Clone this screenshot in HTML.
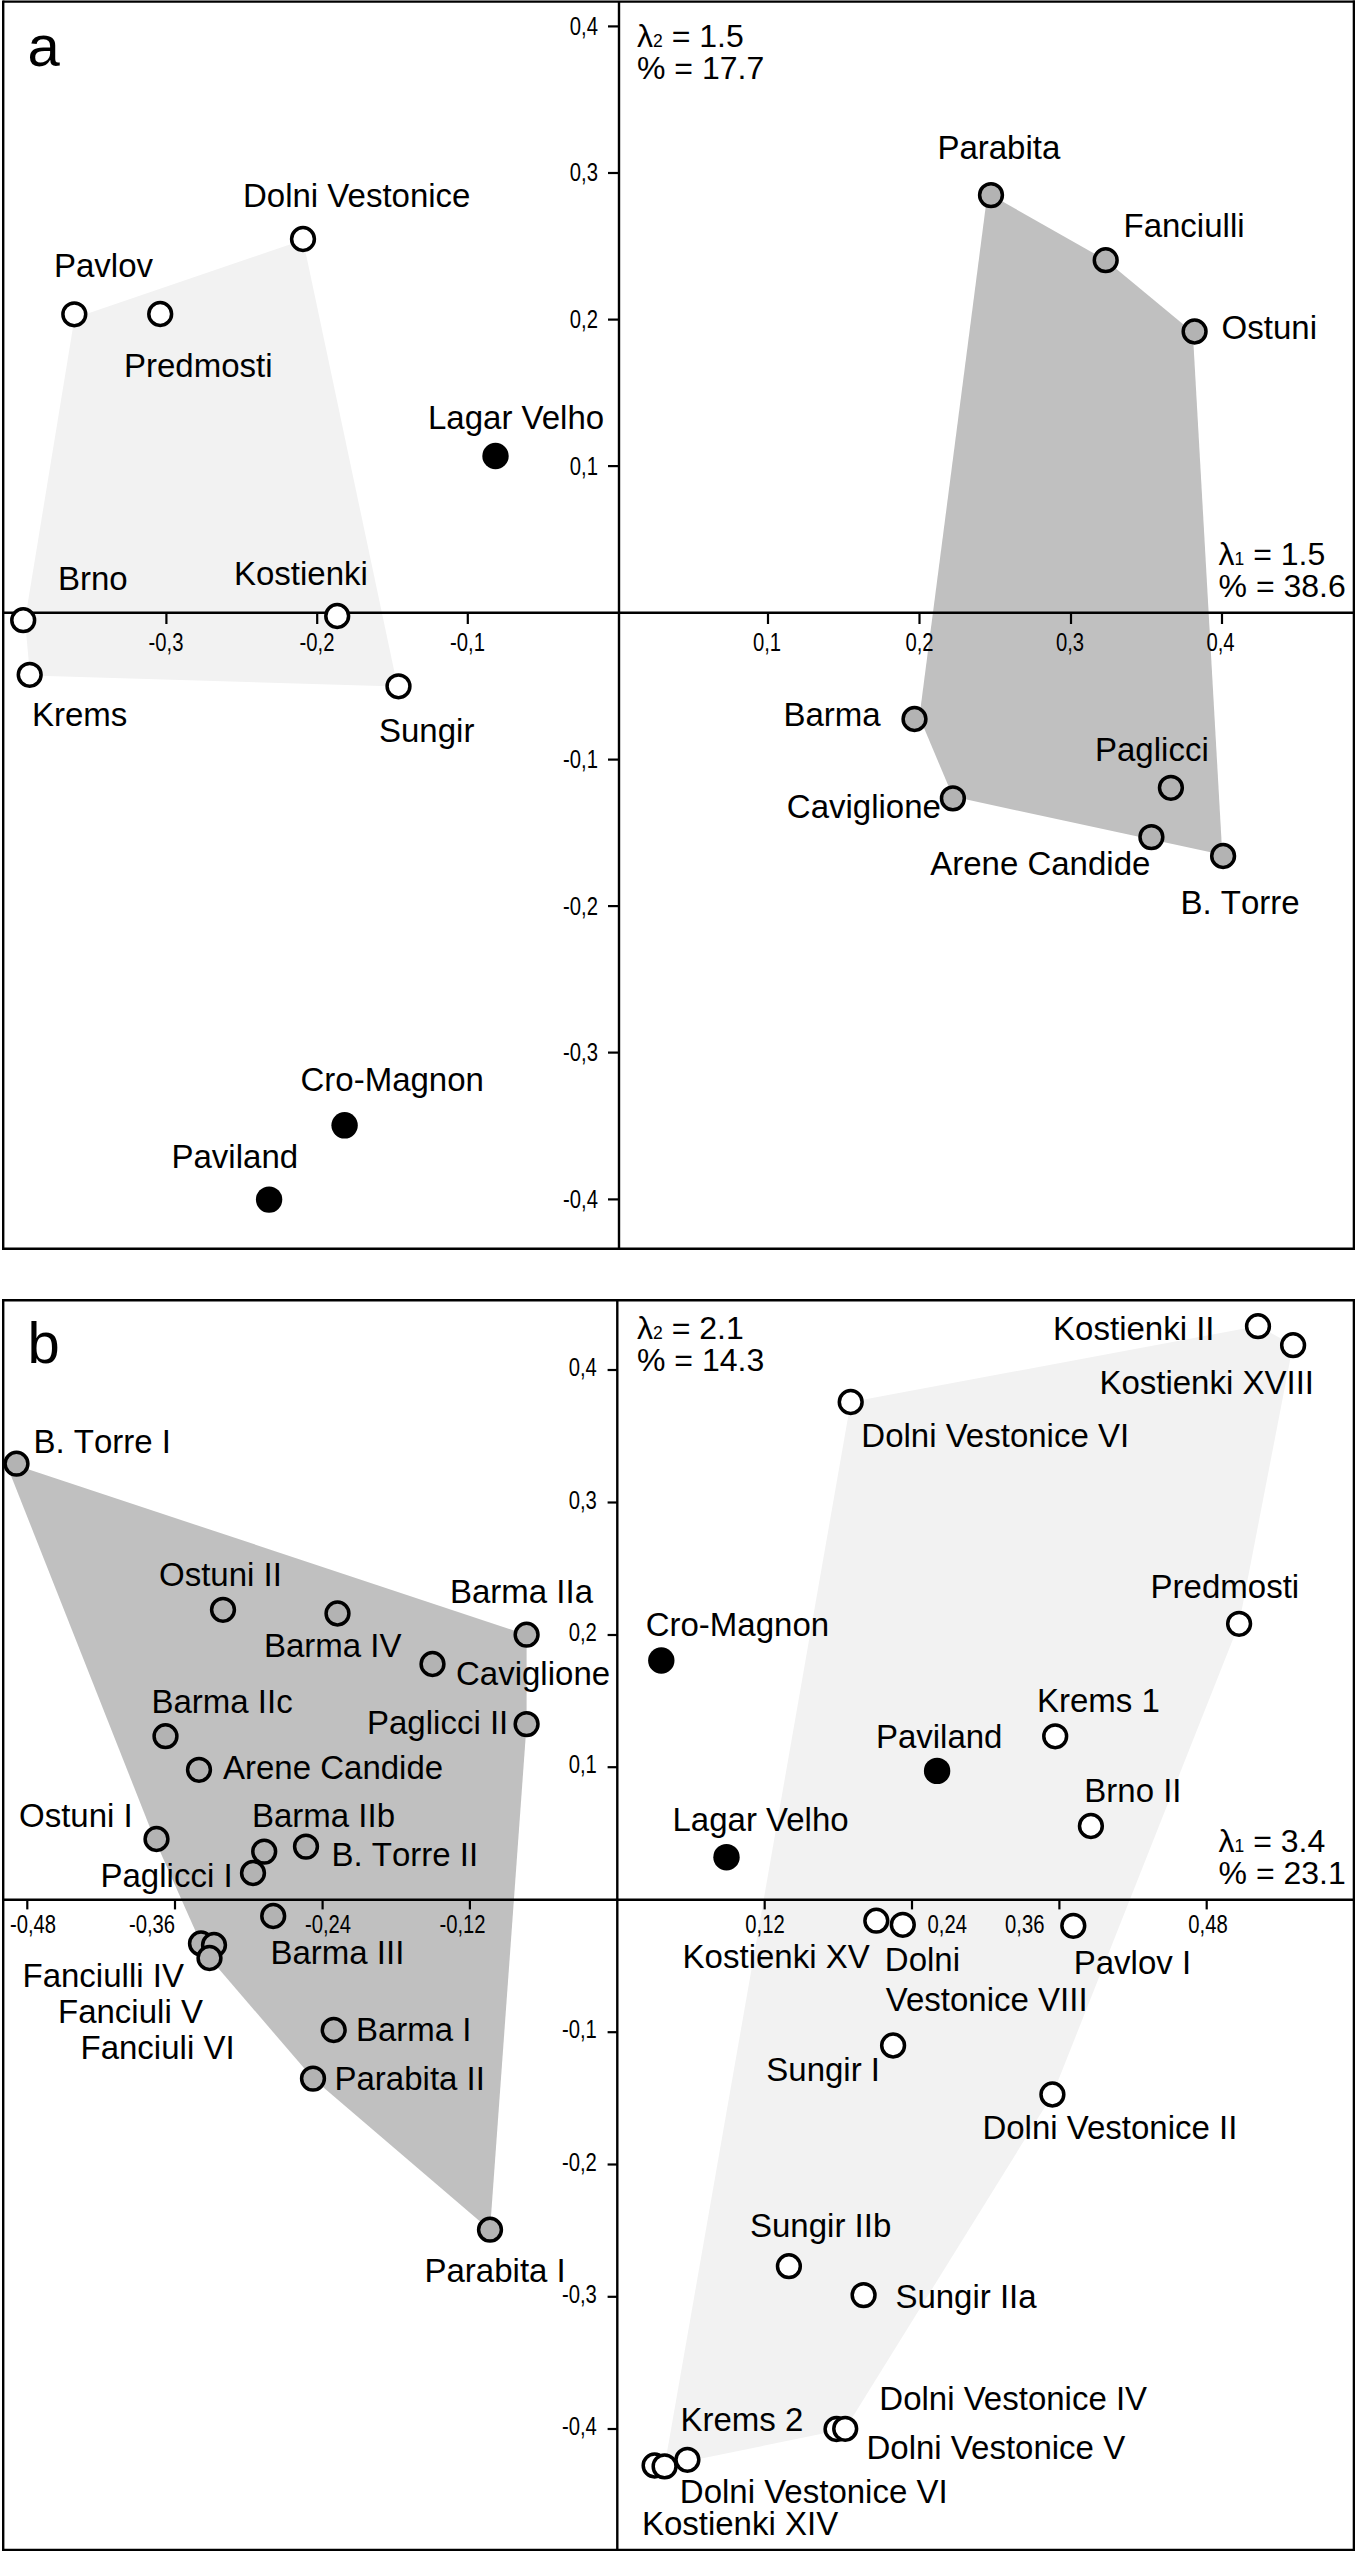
<!DOCTYPE html>
<html lang="en"><head><meta charset="utf-8"><title>Figure</title>
<style>
html,body{margin:0;padding:0;background:#fff}
svg{display:block}
text{font-family:"Liberation Sans", sans-serif;font-size:33px;fill:#000}
</style></head><body>
<svg width="1355" height="2551" viewBox="0 0 1355 2551">
<rect width="1355" height="2551" fill="#fff"/>
<polygon points="303.0,240.0 74.5,318.0 25.0,620.0 30.0,675.5 397.5,686.5" fill="#f2f2f2"/>
<polygon points="987.5,193.0 1105.6,260.0 1192.8,332.2 1222.3,854.8 952.9,796.6 919.4,717.0" fill="#c0c0c0"/>
<line x1="3.2" y1="0.5" x2="3.2" y2="1249.9" stroke="#000" stroke-width="2.4"/>
<line x1="1353.9" y1="0.5" x2="1353.9" y2="1249.9" stroke="#000" stroke-width="2.4"/>
<line x1="3.2" y1="1.6" x2="1355.0" y2="1.6" stroke="#000" stroke-width="2.4"/>
<line x1="3.2" y1="1248.8" x2="1355.0" y2="1248.8" stroke="#000" stroke-width="2.4"/>
<line x1="619.0" y1="1.6" x2="619.0" y2="1248.8" stroke="#000" stroke-width="2.4"/>
<line x1="3.2" y1="612.8" x2="1355.0" y2="612.8" stroke="#000" stroke-width="2.4"/>
<line x1="608.0" y1="26.4" x2="619.0" y2="26.4" stroke="#000" stroke-width="2.2"/>
<line x1="608.0" y1="173.0" x2="619.0" y2="173.0" stroke="#000" stroke-width="2.2"/>
<line x1="608.0" y1="319.6" x2="619.0" y2="319.6" stroke="#000" stroke-width="2.2"/>
<line x1="608.0" y1="466.1" x2="619.0" y2="466.1" stroke="#000" stroke-width="2.2"/>
<line x1="608.0" y1="759.6" x2="619.0" y2="759.6" stroke="#000" stroke-width="2.2"/>
<line x1="608.0" y1="906.1" x2="619.0" y2="906.1" stroke="#000" stroke-width="2.2"/>
<line x1="608.0" y1="1052.6" x2="619.0" y2="1052.6" stroke="#000" stroke-width="2.2"/>
<line x1="608.0" y1="1199.4" x2="619.0" y2="1199.4" stroke="#000" stroke-width="2.2"/>
<line x1="166.4" y1="612.8" x2="166.4" y2="624.0" stroke="#000" stroke-width="2.2"/>
<line x1="317.2" y1="612.8" x2="317.2" y2="624.0" stroke="#000" stroke-width="2.2"/>
<line x1="467.8" y1="612.8" x2="467.8" y2="624.0" stroke="#000" stroke-width="2.2"/>
<line x1="768.0" y1="612.8" x2="768.0" y2="624.0" stroke="#000" stroke-width="2.2"/>
<line x1="919.5" y1="612.8" x2="919.5" y2="624.0" stroke="#000" stroke-width="2.2"/>
<line x1="1071.0" y1="612.8" x2="1071.0" y2="624.0" stroke="#000" stroke-width="2.2"/>
<line x1="1222.0" y1="612.8" x2="1222.0" y2="624.0" stroke="#000" stroke-width="2.2"/>
<text transform="translate(598.0 34.8) scale(0.810 1)" style="font-size:25.0px" text-anchor="end">0,4</text>
<text transform="translate(598.0 181.4) scale(0.810 1)" style="font-size:25.0px" text-anchor="end">0,3</text>
<text transform="translate(598.0 328.0) scale(0.810 1)" style="font-size:25.0px" text-anchor="end">0,2</text>
<text transform="translate(598.0 474.5) scale(0.810 1)" style="font-size:25.0px" text-anchor="end">0,1</text>
<text transform="translate(598.0 768.0) scale(0.810 1)" style="font-size:25.0px" text-anchor="end">-0,1</text>
<text transform="translate(598.0 914.5) scale(0.810 1)" style="font-size:25.0px" text-anchor="end">-0,2</text>
<text transform="translate(598.0 1061.0) scale(0.810 1)" style="font-size:25.0px" text-anchor="end">-0,3</text>
<text transform="translate(598.0 1207.8) scale(0.810 1)" style="font-size:25.0px" text-anchor="end">-0,4</text>
<text transform="translate(166.0 651.0) scale(0.810 1)" style="font-size:25.0px" text-anchor="middle">-0,3</text>
<text transform="translate(317.0 651.0) scale(0.810 1)" style="font-size:25.0px" text-anchor="middle">-0,2</text>
<text transform="translate(467.5 651.0) scale(0.810 1)" style="font-size:25.0px" text-anchor="middle">-0,1</text>
<text transform="translate(767.0 651.0) scale(0.810 1)" style="font-size:25.0px" text-anchor="middle">0,1</text>
<text transform="translate(919.5 651.0) scale(0.810 1)" style="font-size:25.0px" text-anchor="middle">0,2</text>
<text transform="translate(1070.0 651.0) scale(0.810 1)" style="font-size:25.0px" text-anchor="middle">0,3</text>
<text transform="translate(1220.5 651.0) scale(0.810 1)" style="font-size:25.0px" text-anchor="middle">0,4</text>
<circle cx="303.0" cy="239.0" r="11.4" fill="#fff" stroke="#000" stroke-width="3.5"/>
<circle cx="74.3" cy="314.3" r="11.4" fill="#fff" stroke="#000" stroke-width="3.5"/>
<circle cx="160.2" cy="314.0" r="11.4" fill="#fff" stroke="#000" stroke-width="3.5"/>
<circle cx="495.5" cy="456.0" r="13.2" fill="#000"/>
<circle cx="23.2" cy="620.2" r="11.4" fill="#fff" stroke="#000" stroke-width="3.5"/>
<circle cx="337.2" cy="616.0" r="11.4" fill="#fff" stroke="#000" stroke-width="3.5"/>
<circle cx="29.7" cy="674.8" r="11.4" fill="#fff" stroke="#000" stroke-width="3.5"/>
<circle cx="398.5" cy="686.3" r="11.4" fill="#fff" stroke="#000" stroke-width="3.5"/>
<circle cx="344.6" cy="1125.3" r="13.2" fill="#000"/>
<circle cx="269.1" cy="1199.6" r="13.2" fill="#000"/>
<circle cx="991.0" cy="195.1" r="11.4" fill="#b3b3b3" stroke="#000" stroke-width="3.5"/>
<circle cx="1105.7" cy="260.2" r="11.4" fill="#b3b3b3" stroke="#000" stroke-width="3.5"/>
<circle cx="1194.6" cy="331.5" r="11.4" fill="#b3b3b3" stroke="#000" stroke-width="3.5"/>
<circle cx="914.5" cy="719.0" r="11.4" fill="#b3b3b3" stroke="#000" stroke-width="3.5"/>
<circle cx="952.9" cy="798.4" r="11.4" fill="#b3b3b3" stroke="#000" stroke-width="3.5"/>
<circle cx="1170.9" cy="787.8" r="11.4" fill="#b3b3b3" stroke="#000" stroke-width="3.5"/>
<circle cx="1151.4" cy="837.1" r="11.4" fill="#b3b3b3" stroke="#000" stroke-width="3.5"/>
<circle cx="1223.1" cy="856.0" r="11.4" fill="#b3b3b3" stroke="#000" stroke-width="3.5"/>
<text x="27.5" y="66.0" style="font-size:58.0px">a</text>
<text x="243.0" y="206.8">Dolni Vestonice</text>
<text x="54.0" y="276.8">Pavlov</text>
<text x="124.0" y="376.8">Predmosti</text>
<text x="428.0" y="429.0">Lagar Velho</text>
<text x="58.0" y="589.8">Brno</text>
<text x="234.0" y="584.8">Kostienki</text>
<text x="32.0" y="725.8">Krems</text>
<text x="379.0" y="741.8">Sungir</text>
<text x="300.5" y="1090.8">Cro-Magnon</text>
<text x="171.5" y="1167.5">Paviland</text>
<text x="637.0" y="46.5" style="font-size:32.0px">λ<tspan style="font-size:17.5px">2</tspan> = 1.5</text>
<text x="637.0" y="78.5" style="font-size:32.0px">% = 17.7</text>
<text x="937.4" y="159.1">Parabita</text>
<text x="1123.5" y="237.1">Fanciulli</text>
<text x="1221.6" y="338.6">Ostuni</text>
<text x="1218.6" y="564.9" style="font-size:32.0px">λ<tspan style="font-size:17.5px">1</tspan> = 1.5</text>
<text x="1218.6" y="597.3" style="font-size:32.0px">% = 38.6</text>
<text x="783.4" y="726.3">Barma</text>
<text x="1095.0" y="761.4">Paglicci</text>
<text x="786.8" y="818.2">Caviglione</text>
<text x="930.2" y="875.2">Arene Candide</text>
<text x="1180.5" y="913.8" style="font-kerning:none">B. Torre</text>
<polygon points="5.5,1461.7 526.6,1634.7 526.6,1724.1 490.0,2230.0 313.0,2078.6 209.5,1958.0 201.0,1943.5 154.5,1839.0" fill="#c0c0c0"/>
<polygon points="850.7,1402.0 1258.0,1326.0 1293.0,1345.0 1239.0,1624.0 1052.6,2094.6 845.2,2429.0 664.6,2466.0" fill="#f2f2f2"/>
<line x1="3.2" y1="1299.1" x2="3.2" y2="2551.3" stroke="#000" stroke-width="2.4"/>
<line x1="1353.9" y1="1299.1" x2="1353.9" y2="2551.3" stroke="#000" stroke-width="2.4"/>
<line x1="3.2" y1="1300.2" x2="1355.0" y2="1300.2" stroke="#000" stroke-width="2.4"/>
<line x1="3.2" y1="2550.2" x2="1355.0" y2="2550.2" stroke="#000" stroke-width="2.7"/>
<line x1="617.3" y1="1300.2" x2="617.3" y2="2550.2" stroke="#000" stroke-width="2.4"/>
<line x1="3.2" y1="1899.7" x2="1355.0" y2="1899.7" stroke="#000" stroke-width="2.4"/>
<line x1="607.6" y1="1370.0" x2="617.3" y2="1370.0" stroke="#000" stroke-width="2.2"/>
<line x1="607.6" y1="1502.5" x2="617.3" y2="1502.5" stroke="#000" stroke-width="2.2"/>
<line x1="607.6" y1="1635.0" x2="617.3" y2="1635.0" stroke="#000" stroke-width="2.2"/>
<line x1="607.6" y1="1767.2" x2="617.3" y2="1767.2" stroke="#000" stroke-width="2.2"/>
<line x1="607.6" y1="2032.2" x2="617.3" y2="2032.2" stroke="#000" stroke-width="2.2"/>
<line x1="607.6" y1="2164.5" x2="617.3" y2="2164.5" stroke="#000" stroke-width="2.2"/>
<line x1="607.6" y1="2296.8" x2="617.3" y2="2296.8" stroke="#000" stroke-width="2.2"/>
<line x1="607.6" y1="2429.0" x2="617.3" y2="2429.0" stroke="#000" stroke-width="2.2"/>
<line x1="27.3" y1="1899.7" x2="27.3" y2="1909.4" stroke="#000" stroke-width="2.2"/>
<line x1="175.0" y1="1899.7" x2="175.0" y2="1909.4" stroke="#000" stroke-width="2.2"/>
<line x1="322.6" y1="1899.7" x2="322.6" y2="1909.4" stroke="#000" stroke-width="2.2"/>
<line x1="469.9" y1="1899.7" x2="469.9" y2="1909.4" stroke="#000" stroke-width="2.2"/>
<line x1="764.7" y1="1899.7" x2="764.7" y2="1909.4" stroke="#000" stroke-width="2.2"/>
<line x1="912.0" y1="1899.7" x2="912.0" y2="1909.4" stroke="#000" stroke-width="2.2"/>
<line x1="1059.4" y1="1899.7" x2="1059.4" y2="1909.4" stroke="#000" stroke-width="2.2"/>
<line x1="1206.7" y1="1899.7" x2="1206.7" y2="1909.4" stroke="#000" stroke-width="2.2"/>
<text transform="translate(596.8 1376.0) scale(0.810 1)" style="font-size:25.0px" text-anchor="end">0,4</text>
<text transform="translate(596.8 1508.5) scale(0.810 1)" style="font-size:25.0px" text-anchor="end">0,3</text>
<text transform="translate(596.8 1641.0) scale(0.810 1)" style="font-size:25.0px" text-anchor="end">0,2</text>
<text transform="translate(596.8 1773.2) scale(0.810 1)" style="font-size:25.0px" text-anchor="end">0,1</text>
<text transform="translate(596.8 2038.2) scale(0.810 1)" style="font-size:25.0px" text-anchor="end">-0,1</text>
<text transform="translate(596.8 2170.5) scale(0.810 1)" style="font-size:25.0px" text-anchor="end">-0,2</text>
<text transform="translate(596.8 2302.8) scale(0.810 1)" style="font-size:25.0px" text-anchor="end">-0,3</text>
<text transform="translate(596.8 2435.0) scale(0.810 1)" style="font-size:25.0px" text-anchor="end">-0,4</text>
<text transform="translate(33.0 1932.7) scale(0.810 1)" style="font-size:25.0px" text-anchor="middle">-0,48</text>
<text transform="translate(152.0 1932.7) scale(0.810 1)" style="font-size:25.0px" text-anchor="middle">-0,36</text>
<text transform="translate(328.0 1932.7) scale(0.810 1)" style="font-size:25.0px" text-anchor="middle">-0,24</text>
<text transform="translate(462.5 1932.7) scale(0.810 1)" style="font-size:25.0px" text-anchor="middle">-0,12</text>
<text transform="translate(765.0 1932.7) scale(0.810 1)" style="font-size:25.0px" text-anchor="middle">0,12</text>
<text transform="translate(947.3 1932.7) scale(0.810 1)" style="font-size:25.0px" text-anchor="middle">0,24</text>
<text transform="translate(1024.8 1932.7) scale(0.810 1)" style="font-size:25.0px" text-anchor="middle">0,36</text>
<text transform="translate(1208.0 1932.7) scale(0.810 1)" style="font-size:25.0px" text-anchor="middle">0,48</text>
<circle cx="16.5" cy="1463.7" r="11.4" fill="#b3b3b3" stroke="#000" stroke-width="3.5"/>
<circle cx="223.0" cy="1609.8" r="11.4" fill="#b3b3b3" stroke="#000" stroke-width="3.5"/>
<circle cx="337.5" cy="1613.5" r="11.4" fill="#b3b3b3" stroke="#000" stroke-width="3.5"/>
<circle cx="526.6" cy="1634.7" r="11.4" fill="#b3b3b3" stroke="#000" stroke-width="3.5"/>
<circle cx="432.5" cy="1664.0" r="11.4" fill="#b3b3b3" stroke="#000" stroke-width="3.5"/>
<circle cx="526.6" cy="1724.1" r="11.4" fill="#b3b3b3" stroke="#000" stroke-width="3.5"/>
<circle cx="165.5" cy="1736.2" r="11.4" fill="#b3b3b3" stroke="#000" stroke-width="3.5"/>
<circle cx="199.0" cy="1769.8" r="11.4" fill="#b3b3b3" stroke="#000" stroke-width="3.5"/>
<circle cx="156.5" cy="1839.0" r="11.4" fill="#b3b3b3" stroke="#000" stroke-width="3.5"/>
<circle cx="253.0" cy="1873.0" r="11.4" fill="#b3b3b3" stroke="#000" stroke-width="3.5"/>
<circle cx="264.2" cy="1851.6" r="11.4" fill="#b3b3b3" stroke="#000" stroke-width="3.5"/>
<circle cx="306.0" cy="1846.6" r="11.4" fill="#b3b3b3" stroke="#000" stroke-width="3.5"/>
<circle cx="273.2" cy="1916.0" r="11.4" fill="#b3b3b3" stroke="#000" stroke-width="3.5"/>
<circle cx="201.0" cy="1943.5" r="11.4" fill="#b3b3b3" stroke="#000" stroke-width="3.5"/>
<circle cx="214.0" cy="1945.0" r="11.4" fill="#b3b3b3" stroke="#000" stroke-width="3.5"/>
<circle cx="209.5" cy="1958.0" r="11.4" fill="#b3b3b3" stroke="#000" stroke-width="3.5"/>
<circle cx="333.7" cy="2030.0" r="11.4" fill="#b3b3b3" stroke="#000" stroke-width="3.5"/>
<circle cx="313.0" cy="2078.6" r="11.4" fill="#b3b3b3" stroke="#000" stroke-width="3.5"/>
<circle cx="490.0" cy="2229.7" r="11.4" fill="#b3b3b3" stroke="#000" stroke-width="3.5"/>
<circle cx="1258.0" cy="1326.2" r="11.4" fill="#fff" stroke="#000" stroke-width="3.5"/>
<circle cx="1293.1" cy="1345.2" r="11.4" fill="#fff" stroke="#000" stroke-width="3.5"/>
<circle cx="850.7" cy="1402.0" r="11.4" fill="#fff" stroke="#000" stroke-width="3.5"/>
<circle cx="1239.1" cy="1623.8" r="11.4" fill="#fff" stroke="#000" stroke-width="3.5"/>
<circle cx="661.3" cy="1660.5" r="13.2" fill="#000"/>
<circle cx="1055.2" cy="1736.3" r="11.4" fill="#fff" stroke="#000" stroke-width="3.5"/>
<circle cx="937.1" cy="1770.9" r="13.2" fill="#000"/>
<circle cx="1090.9" cy="1826.0" r="11.4" fill="#fff" stroke="#000" stroke-width="3.5"/>
<circle cx="726.5" cy="1857.2" r="13.2" fill="#000"/>
<circle cx="876.3" cy="1920.7" r="11.4" fill="#fff" stroke="#000" stroke-width="3.5"/>
<circle cx="902.8" cy="1924.8" r="11.4" fill="#fff" stroke="#000" stroke-width="3.5"/>
<circle cx="1073.3" cy="1925.8" r="11.4" fill="#fff" stroke="#000" stroke-width="3.5"/>
<circle cx="893.1" cy="2045.5" r="11.4" fill="#fff" stroke="#000" stroke-width="3.5"/>
<circle cx="1052.4" cy="2094.5" r="11.4" fill="#fff" stroke="#000" stroke-width="3.5"/>
<circle cx="788.9" cy="2266.2" r="11.4" fill="#fff" stroke="#000" stroke-width="3.5"/>
<circle cx="863.6" cy="2295.1" r="11.4" fill="#fff" stroke="#000" stroke-width="3.5"/>
<circle cx="836.5" cy="2429.0" r="11.4" fill="#fff" stroke="#000" stroke-width="3.5"/>
<circle cx="845.2" cy="2428.8" r="11.4" fill="#fff" stroke="#000" stroke-width="3.5"/>
<circle cx="654.6" cy="2465.5" r="11.4" fill="#fff" stroke="#000" stroke-width="3.5"/>
<circle cx="664.6" cy="2466.4" r="11.4" fill="#fff" stroke="#000" stroke-width="3.5"/>
<circle cx="687.4" cy="2459.8" r="11.4" fill="#fff" stroke="#000" stroke-width="3.5"/>
<text x="27.5" y="1363.0" style="font-size:58.0px">b</text>
<text x="33.5" y="1453.3" style="font-kerning:none">B. Torre I</text>
<text x="159.0" y="1585.8">Ostuni II</text>
<text x="450.0" y="1602.8">Barma IIa</text>
<text x="264.0" y="1657.3">Barma IV</text>
<text x="456.0" y="1684.8">Caviglione</text>
<text x="151.5" y="1713.3">Barma IIc</text>
<text x="367.0" y="1733.8">Paglicci II</text>
<text x="223.0" y="1778.8">Arene Candide</text>
<text x="19.0" y="1826.8">Ostuni I</text>
<text x="252.0" y="1826.8">Barma IIb</text>
<text x="331.5" y="1866.3" style="font-kerning:none">B. Torre II</text>
<text x="100.5" y="1886.6">Paglicci I</text>
<text x="270.5" y="1963.8">Barma III</text>
<text x="22.5" y="1986.8">Fanciulli IV</text>
<text x="58.0" y="2022.8">Fanciuli V</text>
<text x="80.5" y="2058.8">Fanciuli VI</text>
<text x="356.0" y="2040.8">Barma I</text>
<text x="334.5" y="2089.8">Parabita II</text>
<text x="424.5" y="2281.8">Parabita I</text>
<text x="637.0" y="1338.5" style="font-size:32.0px">λ<tspan style="font-size:17.5px">2</tspan> = 2.1</text>
<text x="637.0" y="1371.0" style="font-size:32.0px">% = 14.3</text>
<text x="1218.6" y="1852.3" style="font-size:32.0px">λ<tspan style="font-size:17.5px">1</tspan> = 3.4</text>
<text x="1218.6" y="1883.8" style="font-size:32.0px">% = 23.1</text>
<text x="1053.1" y="1340.4">Kostienki II</text>
<text x="1099.4" y="1393.8">Kostienki XVIII</text>
<text x="861.3" y="1447.4">Dolni Vestonice VI</text>
<text x="1150.6" y="1597.8">Predmosti</text>
<text x="645.7" y="1636.3">Cro-Magnon</text>
<text x="1037.0" y="1711.5">Krems 1</text>
<text x="875.9" y="1747.7">Paviland</text>
<text x="1084.3" y="1801.8">Brno II</text>
<text x="672.5" y="1831.3">Lagar Velho</text>
<text x="682.6" y="1968.3">Kostienki XV</text>
<text x="884.8" y="1971.1">Dolni</text>
<text x="885.8" y="2011.2">Vestonice VIII</text>
<text x="1073.7" y="1973.8">Pavlov I</text>
<text x="766.3" y="2080.8">Sungir I</text>
<text x="982.4" y="2139.0">Dolni Vestonice II</text>
<text x="750.0" y="2237.0">Sungir IIb</text>
<text x="895.4" y="2307.8">Sungir IIa</text>
<text x="879.3" y="2410.2">Dolni Vestonice IV</text>
<text x="680.4" y="2430.8">Krems 2</text>
<text x="866.5" y="2458.6">Dolni Vestonice V</text>
<text x="679.8" y="2503.2">Dolni Vestonice VI</text>
<text x="641.9" y="2535.0">Kostienki XIV</text>
</svg>
</body></html>
